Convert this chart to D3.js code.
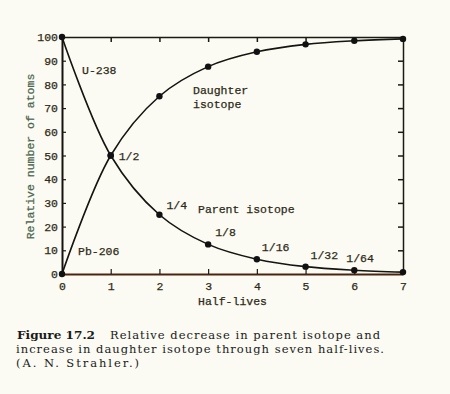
<!DOCTYPE html>
<html>
<head>
<meta charset="utf-8">
<script src="https://cdn.jsdelivr.net/npm/d3@7"></script>
<style>
  body { margin: 0; background: #fbfbf3; }
  svg { display: block; }
  .tick text { font-family: "Liberation Mono", monospace; font-size: 11.5px; fill: #2e2a18; stroke: #2e2a18; stroke-width: 0.25px; }
  .lbl { font-family: "Liberation Mono", monospace; font-size: 11.5px; fill: #2e2a18; stroke: #2e2a18; stroke-width: 0.25px; }
</style>
</head>
<body>
<div id="chart"></div>
<script>
var svgWidth = 450;
var svgHeight = 394;

// data
var halfLives = [0, 1, 2, 3, 4, 5, 6, 7];
var parent = [100, 50, 25, 12.5, 6.25, 3.1, 1.6, 0.8];
var daughter = [0, 50, 75, 87.5, 93.75, 96.9, 98.4, 99.2];
var fractionLabels = ["1/2", "1/4", "1/8", "1/16", "1/32", "1/64"];
var xTicks = [0, 1, 2, 3, 4, 5, 6, 7];
var yTicks = [0, 10, 20, 30, 40, 50, 60, 70, 80, 90, 100];

var svg = d3.select("#chart")
  .append("svg")
  .attr("width", svgWidth)
  .attr("height", svgHeight);

var x = d3.scaleLinear().domain([0, 7]).range([62, 403]);
var y = d3.scaleLinear().domain([0, 100]).range([274, 37]);

// frame: top and right
svg.append("g")
  .attr("transform", `translate(0, ${y(100)})`)
  .call(d3.axisTop(x).tickValues(xTicks.slice(1, 7)).tickSize(-5).tickSizeOuter(0).tickFormat(""))
  .call(g => g.selectAll("path, line").attr("stroke", "#1a1a14").attr("stroke-width", 1.5));

svg.append("g")
  .attr("transform", `translate(${x(7)}, 0)`)
  .call(d3.axisRight(y).tickValues(yTicks.slice(1, 10)).tickSize(-5).tickSizeOuter(0).tickFormat(""))
  .call(g => g.selectAll("path, line").attr("stroke", "#1a1a14").attr("stroke-width", 1.5));

// bottom axis
svg.append("g")
  .attr("transform", `translate(0, ${y(0)})`)
  .call(d3.axisBottom(x).tickValues(xTicks).tickFormat(d3.format("d")).tickSize(-5).tickSizeOuter(0).tickPadding(8))
  .call(g => g.select(".domain").attr("stroke", "#4a2410").attr("stroke-width", 2))
  .call(g => g.selectAll(".tick line").attr("stroke", "#1a1a14").attr("stroke-width", 1.2))
  .call(g => g.selectAll(".tick").filter(d => d === 0 || d === 7).select("line").remove());

// left axis
svg.append("g")
  .attr("transform", `translate(${x(0)}, 0)`)
  .call(d3.axisLeft(y).tickValues(yTicks).tickSize(-4).tickSizeOuter(0).tickPadding(4))
  .call(g => g.select(".domain").attr("stroke", "#14140e").attr("stroke-width", 2))
  .call(g => g.selectAll(".tick line").attr("stroke", "#1a1a14").attr("stroke-width", 1.2))
  .call(g => g.selectAll(".tick").filter(d => d === 0 || d === 100).select("line").remove());

// curves
var parentPts = halfLives.map((h, i) => [h, parent[i]]);
var daughterPts = halfLives.map((h, i) => [h, daughter[i]]);
var line = d3.line()
  .x(d => x(d[0]))
  .y(d => y(d[1]))
  .curve(d3.curveCatmullRom.alpha(0.5));

svg.append("path")
  .datum(parentPts)
  .attr("d", line)
  .attr("fill", "none")
  .attr("stroke", "#141410")
  .attr("stroke-width", 1.6);

svg.append("path")
  .datum(daughterPts)
  .attr("d", line)
  .attr("fill", "none")
  .attr("stroke", "#141410")
  .attr("stroke-width", 1.6);

svg.selectAll("circle.p")
  .data(parentPts)
  .enter()
  .append("circle")
  .attr("class", "p")
  .attr("cx", d => x(d[0]))
  .attr("cy", d => y(d[1]))
  .attr("r", 3.2)
  .attr("fill", "#111");

svg.selectAll("circle.d")
  .data(daughterPts)
  .enter()
  .append("circle")
  .attr("class", "d")
  .attr("cx", d => x(d[0]))
  .attr("cy", d => y(d[1]))
  .attr("r", 3.2)
  .attr("fill", "#111");

// fraction labels next to parent points
var fracOffsets = [[8, 4], [7, -6], [7, -8], [5, -8], [5, -8], [-8, -8]];
svg.selectAll("text.frac")
  .data(fractionLabels)
  .enter()
  .append("text")
  .attr("class", "lbl frac")
  .attr("x", (d, i) => x(halfLives[i + 1]) + fracOffsets[i][0])
  .attr("y", (d, i) => y(parent[i + 1]) + fracOffsets[i][1])
  .text(d => d);

svg.append("text").attr("class", "lbl").attr("x", 82).attr("y", 74).text("U-238");
svg.append("text").attr("class", "lbl").attr("x", 78).attr("y", 255).text("Pb-206");
svg.append("text").attr("class", "lbl").attr("x", 193).attr("y", 94).text("Daughter");
svg.append("text").attr("class", "lbl").attr("x", 193).attr("y", 108).text("isotope");
svg.append("text").attr("class", "lbl").attr("x", 198).attr("y", 213).text("Parent isotope");

// axis titles
svg.append("text")
  .attr("class", "lbl")
  .attr("x", (x(0) + x(7)) / 2)
  .attr("y", 305)
  .attr("text-anchor", "middle")
  .text("Half-lives");

svg.append("text")
  .attr("class", "lbl")
  .attr("transform", `translate(34, ${y(50) + 1}) rotate(-90)`)
  .attr("text-anchor", "middle")
  .style("fill", "#4c6650")
  .style("stroke", "#4c6650")
  .text("Relative number of atoms");

// caption
var cap = svg.append("g")
  .style("font-family", "'DejaVu Serif', serif")
  .style("font-size", "11.5px")
  .style("fill", "#1a1a1a");

cap.append("text").attr("x", 17).attr("y", 339)
  .attr("textLength", 78).attr("lengthAdjust", "spacingAndGlyphs")
  .style("font-weight", "bold").text("Figure 17.2");
cap.append("text").attr("x", 110).attr("y", 339)
  .attr("textLength", 270).text("Relative decrease in parent isotope and");
cap.append("text").attr("x", 16).attr("y", 353)
  .attr("textLength", 368).text("increase in daughter isotope through seven half-lives.");
cap.append("text").attr("x", 16).attr("y", 367)
  .attr("textLength", 123).text("(A. N. Strahler.)");
</script>
</body>
</html>
